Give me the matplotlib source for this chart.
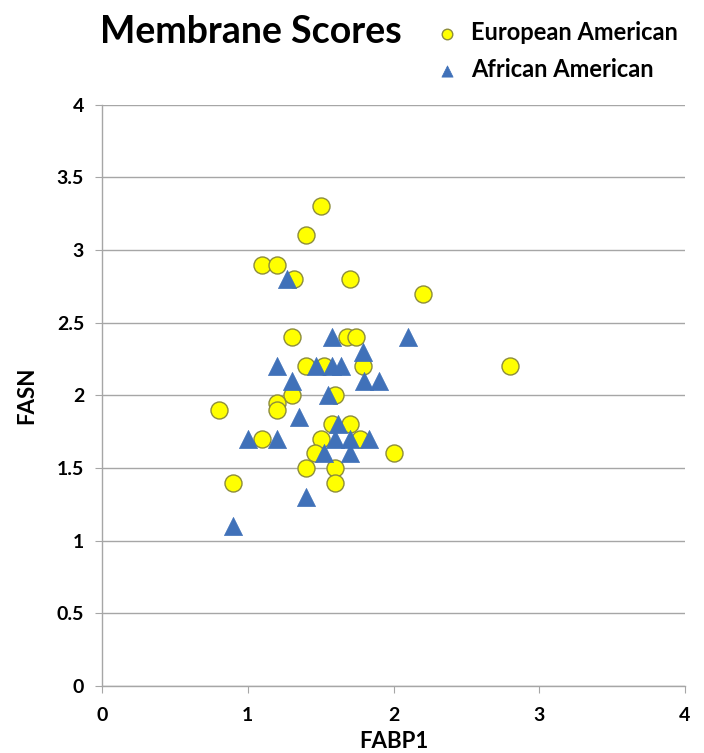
import numpy as np
import matplotlib.pyplot as plt

# ----------------------------
# Data
# ----------------------------
ea_fabp1 = [1.5, 1.4, 1.1, 1.2, 1.32, 1.7, 2.2, 1.3, 1.68, 1.74,
            1.4, 1.52, 1.79, 2.8, 1.3, 1.6, 1.2, 0.8, 1.2, 1.58,
            1.7, 1.1, 1.5, 1.77, 1.46, 2.0, 1.4, 1.6, 0.9, 1.6]
ea_fasn = [3.3, 3.1, 2.9, 2.9, 2.8, 2.8, 2.7, 2.4, 2.4, 2.4,
           2.2, 2.2, 2.2, 2.2, 2.0, 2.0, 1.95, 1.9, 1.9, 1.8,
           1.8, 1.7, 1.7, 1.7, 1.6, 1.6, 1.5, 1.5, 1.4, 1.4]

aa_fabp1 = [1.27, 1.58, 2.1, 1.79, 1.2, 1.47, 1.58, 1.64, 1.3, 1.8,
            1.9, 1.55, 1.35, 1.62, 1.0, 1.2, 1.6, 1.7, 1.83, 1.52,
            1.7, 1.4, 0.9]
aa_fasn = [2.8, 2.4, 2.4, 2.3, 2.2, 2.2, 2.2, 2.2, 2.1, 2.1,
           2.1, 2.0, 1.85, 1.8, 1.7, 1.7, 1.7, 1.7, 1.7, 1.6,
           1.6, 1.3, 1.1]

x_ticks = [0, 1, 2, 3, 4]
y_ticks = [0, 0.5, 1, 1.5, 2, 2.5, 3, 3.5, 4]
y_tick_labels = ["0", "0.5", "1", "1.5", "2", "2.5", "3", "3.5", "4"]

# ----------------------------
# Style
# ----------------------------
plt.rcParams["font.family"] = ["Lato", "DejaVu Sans"]
grid_color = "#a6a6a6"

fig = plt.figure(figsize=(7.04, 7.53), dpi=100)
ax = fig.add_axes([0.145, 0.089, 0.828, 0.772])

ax.scatter(ea_fabp1, ea_fasn, s=150, marker="o", color="#ffff00",
           edgecolor="#8c8c3c", linewidth=1.0, zorder=3,
           label="European American")
ax.scatter(aa_fabp1, aa_fasn, s=170, marker="^", color="#4071b9",
           edgecolor="#4071b9", linewidth=0.5, zorder=4,
           label="African American")

ax.set_xlim(0, 4)
ax.set_ylim(0, 4)
ax.set_xticks(x_ticks)
ax.set_xticklabels([str(t) for t in x_ticks])
ax.set_yticks(y_ticks)
ax.set_yticklabels(y_tick_labels)

ax.grid(axis="y", color=grid_color, linewidth=1.0, zorder=0)
ax.set_axisbelow(True)

for side in ["top", "right"]:
    ax.spines[side].set_visible(False)
for side in ["left", "bottom"]:
    ax.spines[side].set_color(grid_color)
    ax.spines[side].set_linewidth(1.0)

ax.tick_params(axis="both", direction="out", length=5, color=grid_color,
               labelsize=14, pad=8)
ax.tick_params(axis="x", pad=10)
for lbl in ax.get_xticklabels() + ax.get_yticklabels():
    lbl.set_fontweight("bold")

ax.set_xlabel("FABP1", fontsize=16, fontweight="bold")
ax.xaxis.set_label_coords(0.5, -0.077)
ax.set_ylabel("FASN", fontsize=16, fontweight="bold", labelpad=14)

fig.text(0.142, 0.958, "Membrane Scores", fontsize=27, fontweight="bold",
         ha="left", va="center")

fig.legend(loc="upper left", bbox_to_anchor=(0.575, 0.997), frameon=False,
           handletextpad=0.0, labelspacing=0.6,
           markerscale=0.62, borderpad=0.3,
           prop={"weight": "bold", "size": 17})

fig.savefig("out.png", dpi=100)
